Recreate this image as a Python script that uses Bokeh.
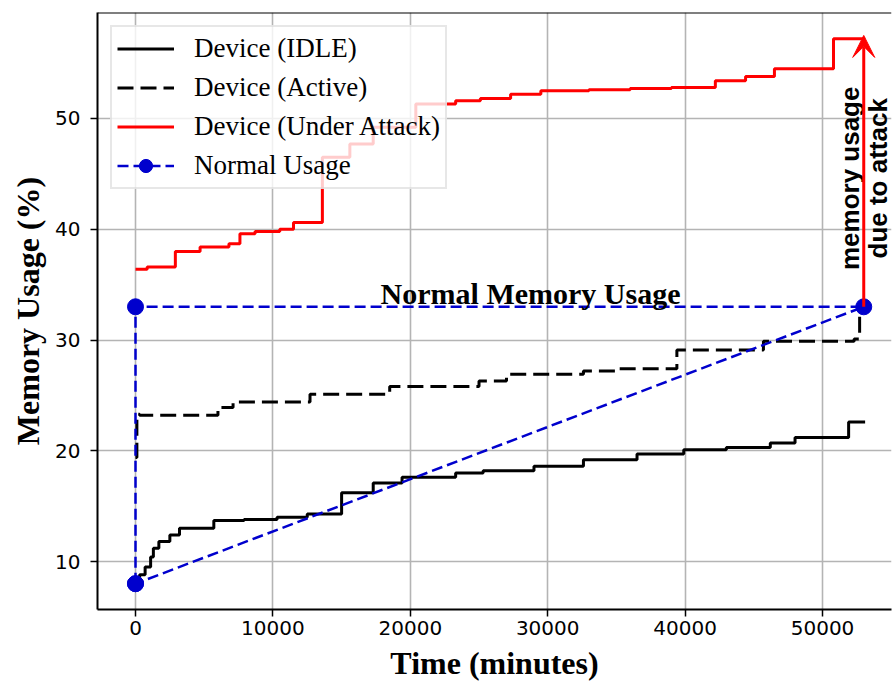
import numpy as np
from bokeh.plotting import figure
from bokeh.models import Range1d, Span, Arrow, VeeHead, FixedTicker, Label
from bokeh.core.properties import value
from bokeh.embed import file_html
from bokeh.resources import INLINE

# ---- data ----
idle_x = [0, 300, 700, 1100, 1300, 1700, 2500, 3200, 5700, 7900, 10300, 12500, 15000,
          17300, 19400, 23300, 25300, 29000, 32600, 36500, 39900, 43000, 46200, 48000, 51900, 53100]
idle_y = [8.0, 8.8, 9.5, 10.4, 11.2, 11.8, 12.4, 13.0, 13.7, 13.8, 14.0, 14.3, 16.2,
          17.1, 17.6, 18.0, 18.2, 18.6, 19.2, 19.7, 20.1, 20.3, 20.7, 21.2, 22.6, 22.6]

active_x = [0, 100, 300, 5400, 6000, 7100, 12700, 18500, 25000, 27000, 32600, 35000,
            39400, 45700, 52300, 52700]
active_y = [19.4, 23.3, 23.2, 23.2, 23.9, 24.4, 25.1, 25.8, 26.3, 26.9, 27.2, 27.4,
            29.1, 29.9, 30.1, 32.3]

attack_x = [0, 850, 2900, 4700, 6800, 7600, 8700, 10500, 11500, 13600, 15600, 17300,
            20400, 23300, 25100, 27300, 29500, 33000, 36000, 39000, 42200, 44400, 46500,
            50800, 53100]
attack_y = [36.4, 36.6, 38.0, 38.4, 38.7, 39.6, 39.8, 40.0, 40.6, 46.5, 47.7, 49.2,
            51.3, 51.6, 51.8, 52.2, 52.5, 52.6, 52.7, 52.8, 53.4, 53.8, 54.5,
            57.2, 57.2]

normal_x = [0, 0, 53000, 0]
normal_y = [8, 33, 33, 8]

arrow_x = 53000
arrow_from = 33
arrow_to = 57.5

x_ticks = [0, 10000, 20000, 30000, 40000, 50000]
x_tick_labels = ["0", "10000", "20000", "30000", "40000", "50000"]
y_ticks = [10, 20, 30, 40, 50]
y_tick_labels = ["10", "20", "30", "40", "50"]

series_labels = ["Device (IDLE)", "Device (Active)", "Device (Under Attack)", "Normal Usage"]
title_normal = "Normal Memory Usage"
note_lines = ["memory usage", "due to attack"]

# ---- figure ----
p = figure(width=893, height=684, output_backend="svg", toolbar_location=None,
           x_range=Range1d(-2766, 55020), y_range=Range1d(5.67, 59.57),
           min_border_left=97, min_border_right=2, min_border_top=12, min_border_bottom=75)
p.outline_line_color = None
p.background_fill_color = "white"
p.border_fill_color = "white"

# grid
for g in (p.xgrid, p.ygrid):
    g.grid_line_color = "#b4b4b4"
    g.grid_line_width = 1.6

# axes
p.xaxis.ticker = FixedTicker(ticks=x_ticks)
p.yaxis.ticker = FixedTicker(ticks=y_ticks)
p.xaxis.major_label_overrides = {t: l for t, l in zip(x_ticks, x_tick_labels)}
p.yaxis.major_label_overrides = {t: l for t, l in zip(y_ticks, y_tick_labels)}
for ax in (p.xaxis, p.yaxis):
    ax.axis_line_color = "black"
    ax.axis_line_width = 2
    ax.major_tick_line_color = "black"
    ax.major_tick_line_width = 1.5
    ax.major_tick_out = 7
    ax.major_tick_in = 0
    ax.minor_tick_line_color = None
    ax.major_label_text_font = "DejaVu Sans"
    ax.major_label_text_font_size = "20px"
    ax.major_label_text_color = "black"
    ax.axis_label_text_font = "Liberation Serif"
    ax.axis_label_text_font_style = "bold"
    ax.axis_label_text_font_size = "32px"
    ax.axis_label_text_color = "black"
p.xaxis.axis_label = "Time (minutes)"
p.yaxis.axis_label = "Memory Usage (%)"
p.xaxis.major_label_standoff = 4
p.xaxis.axis_label_standoff = 7
p.yaxis.major_label_standoff = 10
p.yaxis.axis_label_standoff = 6

# top frame line
p.add_layout(Span(location=59.57, dimension="width", line_color="black", line_width=2))

# series
p.step(idle_x, idle_y, mode="after", line_color="black", line_width=3,
       legend_label=series_labels[0])
p.step(active_x, active_y, mode="after", line_color="black", line_width=3,
       line_dash="16 7", legend_label=series_labels[1])
p.step(attack_x, attack_y, mode="after", line_color="red", line_width=3,
       legend_label=series_labels[2])
p.line(normal_x, normal_y, line_color="#0000CD", line_width=2.5, line_dash="11 5",
       legend_label=series_labels[3])
p.scatter(normal_x, normal_y, size=16, fill_color="#0000CD", line_color="#0000CD",
          legend_label=series_labels[3])

# annotations
p.text(x=[28750], y=[34.2], text=[title_normal], text_align="center",
       text_baseline="alphabetic", text_font=value("Liberation Serif"),
       text_font_style="bold", text_font_size="30px", text_color="black")
for xx, line in zip([52000, 54050], note_lines):
    p.add_layout(Label(x=xx, y=44.6, text=line, angle=np.pi / 2,
                       text_align="center", text_baseline="middle",
                       text_font="Liberation Sans", text_font_style="bold",
                       text_font_size="26px", text_color="black"))
p.add_layout(Arrow(end=VeeHead(size=22, fill_color="red", line_color="red"),
                   x_start=arrow_x, y_start=arrow_from, x_end=arrow_x, y_end=arrow_to,
                   line_color="red", line_width=3))

# legend
lg = p.legend[0]
lg.location = "top_left"
lg.margin = 13
lg.padding = 5
lg.spacing = 6
lg.label_text_font = "Liberation Serif"
lg.label_text_font_size = "27px"
lg.label_text_color = "black"
lg.glyph_width = 57
lg.glyph_height = 33
lg.label_height = 33
lg.label_standoff = 20
lg.border_line_color = "#d0d0d0"
lg.border_line_width = 2
lg.background_fill_color = "white"
lg.background_fill_alpha = 0.8

open("out.html", "w").write(file_html(p, INLINE))
